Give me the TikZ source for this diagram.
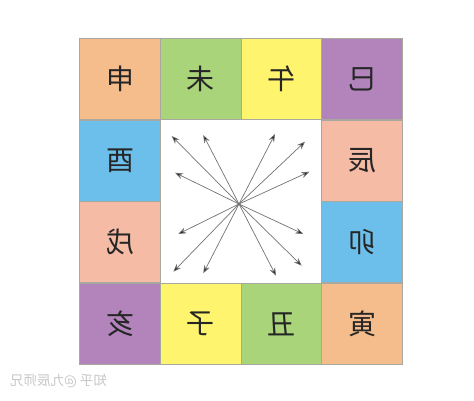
\documentclass[tikz,border=0pt]{standalone}
\usepackage{fontspec}
\newfontfamily\cjk{Noto Sans CJK SC}
\usetikzlibrary{arrows.meta}
\definecolor{corange}{HTML}{F5BD8B}
\definecolor{cgreen}{HTML}{A9D47A}
\definecolor{cyellow}{HTML}{FFF46E}
\definecolor{cpurple}{HTML}{B384BC}
\definecolor{cblue}{HTML}{6BBFEA}
\definecolor{cpink}{HTML}{F5BBA5}
\definecolor{cedge}{HTML}{A8A8A0}
\newcommand{\mir}[1]{\scalebox{-1}[1]{#1}}
\tikzset{
  cell/.style={draw=cedge, line width=0.6pt, minimum width=80.8pt, minimum height=81pt, inner sep=0pt, outer sep=0pt,
    font=\cjk\fontsize{28}{28}\selectfont, text=black!85},
  ray/.style={draw=black!55, line width=0.7pt, -{Stealth[length=8pt,width=6pt,fill=black!90]}},
}
\begin{document}
\begin{tikzpicture}[x=1pt,y=-1pt]
\useasboundingbox (0,0) rectangle (474,400);
\fill[white] (0,0) rectangle (474,400);
% top row
\node[cell, fill=corange] (shen) at (120,79) {\mir{申}};
\node[cell, fill=cgreen]  (wei)  at (200.5,79) {\mir{未}};
\node[cell, fill=cyellow] (wu)   at (281.5,79) {\mir{午}};
\node[cell, fill=cpurple] (si)   at (362,79) {\mir{巳}};
% left column
\node[cell, fill=cblue]   (you)  at (120,160.5) {\mir{酉}};
\node[cell, fill=cpink]   (xu)   at (120,242) {\mir{戌}};
% right column
\node[cell, fill=cpink]   (chen) at (362,160.5) {\mir{辰}};
\node[cell, fill=cblue]   (mao)  at (362,242) {\mir{卯}};
% bottom row
\node[cell, fill=cpurple] (hai)  at (120,324) {\mir{亥}};
\node[cell, fill=cyellow] (zi)   at (200.5,324) {\mir{子}};
\node[cell, fill=cgreen]  (chou) at (281.5,324) {\mir{丑}};
\node[cell, fill=corange] (yin)  at (362,324) {\mir{寅}};
% center
\coordinate (c) at (239,204);
\coordinate (a1) at (171.7,136);
\coordinate (a2) at (203.3,135);
\coordinate (a3) at (275,134);
\coordinate (a4) at (305,141.7);
\coordinate (a5) at (175,172.7);
\coordinate (a6) at (309.3,171.7);
\coordinate (a7) at (178.3,234);
\coordinate (a8) at (303.3,234);
\coordinate (a9) at (173.3,271.7);
\coordinate (a10) at (203.3,273.3);
\coordinate (a11) at (276,275.7);
\coordinate (a12) at (301.7,265.7);
\foreach \i in {1,...,12} \draw[ray] (c) -- (a\i);
\node[font=\cjk\fontsize{13.5}{13.5}\selectfont, text=black!22, anchor=west, inner sep=0pt] (wm) at (10,381) {\mir{知乎 @九辰师兄}};
\end{tikzpicture}
\end{document}
